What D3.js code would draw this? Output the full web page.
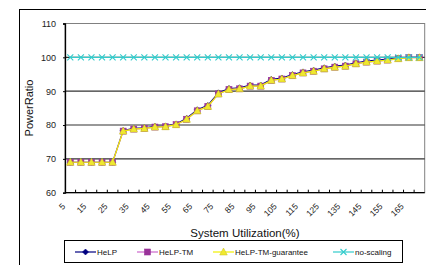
<!DOCTYPE html>
<html>
<head>
<meta charset="utf-8">
<script src="https://cdn.jsdelivr.net/npm/d3@7"></script>
<style>
  body { margin: 0; background: #fff; }
  svg { display: block; font-family: "Liberation Sans", Arial, sans-serif; }
</style>
</head>
<body>
<script>
const width = 426, height = 265;

// categories (system utilization, %)
const utilization = [5, 10, 15, 20, 25, 30, 35, 40, 45, 50, 55, 60, 65, 70, 75, 80, 85,
  90, 95, 100, 105, 110, 115, 120, 125, 130, 135, 140, 145, 150, 155, 160, 165, 170];

const help = [69.0, 69.0, 69.0, 69.0, 69.0, 78.4, 79.0, 79.2, 79.6, 79.7, 80.3, 82.0, 84.5, 85.8,
  89.5, 90.8, 91.0, 91.8, 91.8, 93.5, 93.9, 94.9, 95.7, 96.2, 96.9, 97.4, 97.7, 98.4, 98.9, 99.2,
  99.5, 99.8, 100.0, 100.0];
const helpTM = [69.0, 69.0, 69.0, 69.0, 69.0, 78.2, 78.8, 79.0, 79.4, 79.5, 80.1, 81.7, 84.2, 85.5,
  89.2, 90.5, 90.7, 91.5, 91.5, 93.2, 93.6, 94.6, 95.4, 95.9, 96.6, 97.1, 97.4, 98.1, 98.6, 98.9,
  99.2, 99.6, 99.9, 99.9];
const helpTMGuarantee = [69.0, 69.0, 69.0, 69.0, 69.0, 78.2, 78.8, 79.0, 79.4, 79.5, 80.1, 81.7, 84.2, 85.5,
  89.2, 90.5, 90.7, 91.5, 91.5, 93.2, 93.6, 94.6, 95.4, 95.9, 96.6, 97.1, 97.4, 98.1, 98.6, 98.9,
  99.2, 99.6, 99.9, 99.9];
const noScaling = [100, 100, 100, 100, 100, 100, 100, 100, 100, 100, 100, 100, 100, 100, 100, 100, 100,
  100, 100, 100, 100, 100, 100, 100, 100, 100, 100, 100, 100, 100, 100, 100, 100, 100];

const yTicks = [60, 70, 80, 90, 100, 110];
const xLabelEvery = 2;

const seriesNames = ["HeLP", "HeLP-TM", "HeLP-TM-guarantee", "no-scaling"];

const series = [
  { name: seriesNames[0], values: help, line: "#000080", fill: "#000080", marker: "diamond" },
  { name: seriesNames[1], values: helpTM, line: "#cc66cc", fill: "#993399", marker: "square" },
  { name: seriesNames[2], values: helpTMGuarantee, line: "#f0f000", fill: "#f0e830", marker: "triangle" },
  { name: seriesNames[3], values: noScaling, line: "#33cccc", fill: "#33cccc", marker: "cross" }
];

const plot = { left: 65, right: 424.7, top: 23.5, bottom: 192.7 };

const svg = d3.select("body").append("svg")
  .attr("width", width)
  .attr("height", height);

// outer chart border (runs off the canvas right and bottom)
svg.append("rect")
  .attr("x", 19.5).attr("y", 9.5)
  .attr("width", 420).attr("height", 270)
  .attr("fill", "#fff").attr("stroke", "#000").attr("stroke-width", 1);

const x = d3.scaleBand()
  .domain(utilization)
  .range([plot.left, plot.right])
  .padding(0);

const y = d3.scaleLinear()
  .domain([60, 110])
  .range([plot.bottom, plot.top]);

// plot area
svg.append("rect")
  .attr("x", plot.left).attr("y", plot.top)
  .attr("width", plot.right - plot.left).attr("height", plot.bottom - plot.top)
  .attr("fill", "#fff").attr("stroke", "#808080").attr("stroke-width", 1);

// gridlines
svg.append("g").selectAll("line")
  .data(yTicks.filter(t => t > 60 && t < 110))
  .join("line")
  .attr("x1", plot.left).attr("x2", plot.right)
  .attr("y1", d => y(d)).attr("y2", d => y(d))
  .attr("stroke", "#333").attr("stroke-width", 1.2);

// y axis
const yAxis = svg.append("g")
  .attr("transform", `translate(${plot.left},0)`)
  .call(d3.axisLeft(y).tickValues(yTicks).tickSize(2).tickPadding(7));
yAxis.select(".domain").attr("stroke", "#000").attr("stroke-width", 1.3);
yAxis.selectAll("text").attr("font-size", 9).attr("fill", "#222");

// x axis line with inward ticks at category boundaries
const xg = svg.append("g");
xg.append("line")
  .attr("x1", plot.left).attr("x2", plot.right)
  .attr("y1", plot.bottom).attr("y2", plot.bottom)
  .attr("stroke", "#000").attr("stroke-width", 1.3);
xg.selectAll(".tick")
  .data(utilization.slice(1))
  .join("line")
  .attr("class", "tick")
  .attr("x1", d => x(d)).attr("x2", d => x(d))
  .attr("y1", plot.bottom).attr("y2", plot.bottom - 3)
  .attr("stroke", "#000");
xg.selectAll("text")
  .data(utilization.filter((d, i) => i % xLabelEvery === 0))
  .join("text")
  .attr("transform", d => `translate(${x(d) + x.bandwidth() / 2 - 4.5},207) rotate(-45)`)
  .attr("text-anchor", "end")
  .attr("font-size", 8.5)
  .attr("fill", "#222")
  .text(d => d);

// axis titles
svg.append("text")
  .attr("transform", `translate(33,108) rotate(-90)`)
  .attr("text-anchor", "middle")
  .attr("font-size", 11)
  .attr("fill", "#111")
  .text("PowerRatio");
svg.append("text")
  .attr("x", 245).attr("y", 237)
  .attr("text-anchor", "middle")
  .attr("font-size", 11.5)
  .attr("fill", "#111")
  .text("System Utilization(%)");

function drawMarker(g, type, fill, stroke) {
  if (type === "diamond") {
    g.append("path").attr("d", "M0,-3L3,0L0,3L-3,0Z").attr("fill", fill).attr("stroke", stroke).attr("stroke-width", 0.6);
  } else if (type === "square") {
    g.append("rect").attr("x", -3).attr("y", -3).attr("width", 6).attr("height", 6).attr("fill", fill).attr("stroke", stroke).attr("stroke-width", 0.6);
  } else if (type === "triangle") {
    g.append("path").attr("d", "M0,-4L3.8,3L-3.8,3Z").attr("fill", fill).attr("stroke", "#c8c020").attr("stroke-width", 0.5);
  } else {
    g.append("path").attr("d", "M-3,-3L3,3M-3,3L3,-3").attr("stroke", fill).attr("stroke-width", 1.1).attr("fill", "none");
  }
}

const line = d3.line()
  .x((d, i) => x(utilization[i]) + x.bandwidth() / 2)
  .y(d => y(d));

series.forEach(s => {
  const g = svg.append("g");
  g.append("path")
    .attr("d", line(s.values))
    .attr("fill", "none")
    .attr("stroke", s.line)
    .attr("stroke-width", 1.2);
  s.values.forEach((v, i) => {
    const m = g.append("g")
      .attr("transform", `translate(${x(utilization[i]) + x.bandwidth() / 2},${y(v)})`);
    drawMarker(m, s.marker, s.fill, s.fill);
  });
});

// legend
const legend = svg.append("g");
legend.append("rect")
  .attr("x", 64.5).attr("y", 240.5)
  .attr("width", 338).attr("height", 22)
  .attr("fill", "#fff").attr("stroke", "#000").attr("stroke-width", 1);
const legendX = [75, 137, 213, 333];
series.forEach((s, i) => {
  const g = legend.append("g").attr("transform", `translate(${legendX[i]},252)`);
  g.append("line").attr("x1", 0).attr("x2", 21).attr("stroke", s.line).attr("stroke-width", 1.2);
  drawMarker(g.append("g").attr("transform", "translate(10.5,0)"), s.marker, s.fill, s.fill);
  g.append("text")
    .attr("x", 22).attr("y", 3)
    .attr("font-size", 8)
    .attr("fill", "#111")
    .text(s.name);
});
</script>
</body>
</html>
